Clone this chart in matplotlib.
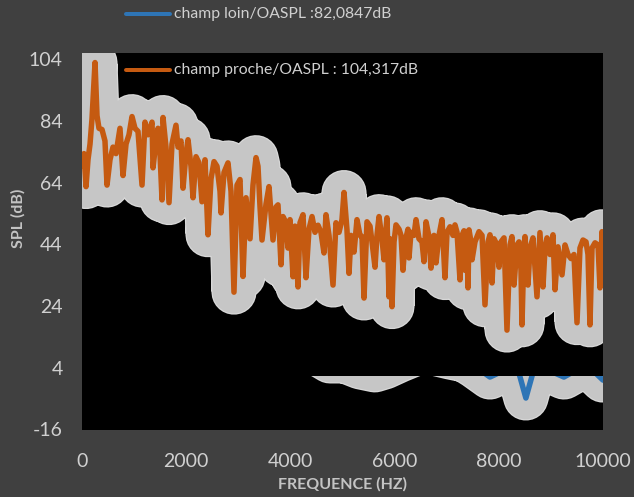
import matplotlib
matplotlib.use("Agg")
import matplotlib.pyplot as plt
from matplotlib.lines import Line2D
from matplotlib.patches import Rectangle

plt.rcParams['font.family'] = ['Lato', 'DejaVu Sans']
plt.rcParams['axes.unicode_minus'] = False

# Near-field spectrum (Hz, dB)
freq_proche = [
    0, 38, 77, 115, 154, 192, 250, 288, 326, 384,
    441, 480, 537, 595, 653, 729, 787, 845, 902, 960,
    1017, 1075, 1152, 1209, 1267, 1344, 1363, 1420, 1459, 1497,
    1536, 1555, 1612, 1670, 1727, 1804, 1843, 1900, 1939, 1996,
    2035, 2092, 2131, 2188, 2246, 2303, 2361, 2418, 2476, 2534,
    2591, 2649, 2668, 2726, 2802, 2860, 2917, 2975, 3033, 3090,
    3148, 3225, 3282, 3340, 3378, 3417, 3455, 3532, 3589, 3666,
    3724, 3762, 3820, 3858, 3916, 3954, 3992, 4050, 4088, 4146,
    4184, 4242, 4299, 4357, 4415, 4472, 4530, 4587, 4645, 4683,
    4741, 4818, 4875, 4933, 4990, 5029, 5086, 5125, 5163, 5221,
    5278, 5336, 5374, 5413, 5470, 5528, 5566, 5624, 5662, 5701,
    5758, 5797, 5835, 5854, 5893, 5912, 5950, 5989, 6027, 6085,
    6123, 6161, 6200, 6257, 6276, 6315, 6372, 6411, 6468, 6526,
    6564, 6603, 6660, 6699, 6756, 6795, 6852, 6910, 6967, 7006,
    7063, 7121, 7159, 7198, 7255, 7294, 7332, 7351, 7390, 7409,
    7428, 7467, 7486, 7543, 7620, 7678, 7735, 7793, 7831, 7870,
    7908, 7966, 8004, 8042, 8100, 8157, 8215, 8253, 8292, 8349,
    8388, 8426, 8445, 8484, 8503, 8560, 8599, 8656, 8733, 8790,
    8848, 8887, 8925, 8983, 9040, 9079, 9136, 9213, 9271, 9328,
    9386, 9443, 9501, 9558, 9616, 9674, 9712, 9750, 9789, 9847,
    9904, 9942, 9981, 10000,
]
spl_proche = [
    69.3, 73.4, 62.7, 71.4, 76.5, 84.7, 102.9, 85.7, 81.6, 81.2,
    77.5, 63.2, 71.4, 75.5, 73.4, 81.6, 66.3, 76.5, 79.5, 85.4,
    81.6, 80.6, 63.2, 83.6, 79.5, 83.6, 68.8, 77.5, 81.6, 73.4,
    58.4, 85.1, 75.5, 57.5, 76.5, 82.6, 75.5, 77.5, 62.2, 73.4,
    77.9, 69.3, 59.1, 72.4, 70.4, 57.8, 71.4, 47.1, 65.2, 70.8,
    69.3, 61.2, 54.2, 67.3, 70.4, 61.2, 28.5, 63.2, 65.0, 33.6,
    59.1, 45.8, 63.2, 72.1, 69.3, 56.1, 45.4, 57.1, 62.7, 45.4,
    56.1, 56.8, 37.4, 53.0, 51.0, 42.8, 52.0, 33.5, 49.9, 30.2,
    51.0, 53.6, 33.2, 48.9, 53.0, 47.9, 50.2, 47.9, 41.2, 53.6,
    46.9, 30.8, 51.0, 47.9, 52.0, 60.8, 48.7, 34.6, 46.9, 41.5,
    52.0, 46.9, 46.5, 26.6, 51.3, 49.9, 44.8, 36.6, 46.9, 53.0,
    45.8, 39.0, 48.9, 52.6, 27.0, 45.8, 23.8, 44.8, 50.3, 48.9,
    46.9, 35.6, 44.8, 48.9, 39.6, 47.9, 46.9, 52.0, 45.8, 44.8,
    38.4, 51.3, 46.5, 36.3, 46.9, 38.0, 46.9, 52.0, 33.2, 47.9,
    49.7, 46.9, 50.3, 47.9, 32.5, 46.9, 48.4, 35.6, 44.8, 29.9,
    48.7, 44.8, 39.0, 44.8, 48.1, 46.9, 24.4, 44.8, 47.1, 31.5,
    45.8, 43.8, 36.6, 44.8, 46.1, 16.2, 43.8, 46.5, 30.8, 43.8,
    44.8, 35.6, 17.9, 42.8, 46.5, 30.8, 42.8, 46.1, 27.0, 47.8,
    30.2, 42.8, 46.1, 40.7, 47.1, 29.3, 43.2, 34.1, 43.8, 40.7,
    39.4, 40.7, 18.6, 42.8, 45.4, 44.8, 40.7, 17.9, 42.8, 44.5,
    43.8, 29.9, 48.1, 40.7,
]

# Far-field spectrum (Hz, dB)
freq_loin = [
    0, 960, 1920, 2880, 3840, 4300, 4530, 4760, 5050, 5335,
    5620, 5815, 6100, 6390, 6620, 6810, 7060, 7350, 7540, 7830,
    8120, 8370, 8520, 8670, 8940, 9250, 9460, 9650, 9845, 10000,
]
spl_loin = [
    30.0, 26.0, 22.0, 18.0, 13.0, 10.0, 8.5, 6.2, 6.2, 4.3,
    3.3, 4.3, 6.5, 8.5, 11.0, 8.5, 7.5, 6.5, 4.5, 1.0,
    3.3, 3.3, -5.8, 3.3, 3.3, 1.0, 3.0, 4.0, 2.5, 0.0,
]

label_loin = "champ loin/OASPL :82,0847dB"
label_proche = "champ proche/OASPL : 104,317dB"

x_ticks = [0, 2000, 4000, 6000, 8000, 10000]
y_ticks = [-16, 4, 24, 44, 64, 84, 104]

BG = "#404040"
TXT = "#d0d0d0"
BLUE = "#2e75b6"
ORANGE = "#c55a11"
GLOW = "#c6c6c6"
RIM = "#d8d8d8"

W, H, DPI = 634, 497, 100
fig = plt.figure(figsize=(W / DPI, H / DPI), dpi=DPI, facecolor=BG)
ax = fig.add_axes([82 / W, 1 - 429.5 / H, 521 / W, 376.5 / H])
ax.set_facecolor("black")
ax.set_xlim(0, 10000)
ax.set_ylim(-16, 106)

px = 72.0 / DPI  # points per pixel
glow_kw = dict(solid_capstyle="round", solid_joinstyle="round")

# far-field series, shown only below the clip level
clip_rect = Rectangle((0, -16), 10000, 17.35, transform=ax.transData)
for lw, col in [(45 * px, RIM), (42.5 * px, GLOW), (5.5 * px, BLUE)]:
    ln, = ax.plot(freq_loin, spl_loin, color=col, lw=lw, **glow_kw)
    ln.set_clip_path(clip_rect)

# near-field series with glow
ax.plot(freq_proche, spl_proche, color=RIM, lw=45 * px, **glow_kw)
ax.plot(freq_proche, spl_proche, color=GLOW, lw=42.5 * px, **glow_kw)
ax.plot(freq_proche, spl_proche, color=ORANGE, lw=5.5 * px, **glow_kw)

ax.set_xticks(x_ticks)
ax.set_yticks(y_ticks)
ax.tick_params(length=0, colors=TXT, labelsize=14)
ax.tick_params(axis="x", pad=17)
ax.tick_params(axis="y", pad=14)
for s in ax.spines.values():
    s.set_visible(False)

fig.text(343 / W, 1 - 484 / H, "FREQUENCE (HZ)", color="#c4c4c4",
         fontsize=11.5, fontweight="bold", ha="center", va="center")
fig.text(18 / W, 1 - 218 / H, "SPL (dB)", color="#c4c4c4",
         fontsize=11.5, fontweight="bold", ha="center", va="center",
         rotation=90)

# legend entries
for ypix, col, lab in [(14, BLUE, label_loin), (70, ORANGE, label_proche)]:
    yf = 1 - ypix / H
    fig.add_artist(Line2D([126 / W, 170 / W], [yf, yf], color=col,
                          lw=4 * px, solid_capstyle="round",
                          transform=fig.transFigure))
    fig.text(174 / W, yf, lab, color=TXT, fontsize=11.3,
             ha="left", va="center")

fig.savefig("out.png", dpi=DPI, facecolor=BG)
